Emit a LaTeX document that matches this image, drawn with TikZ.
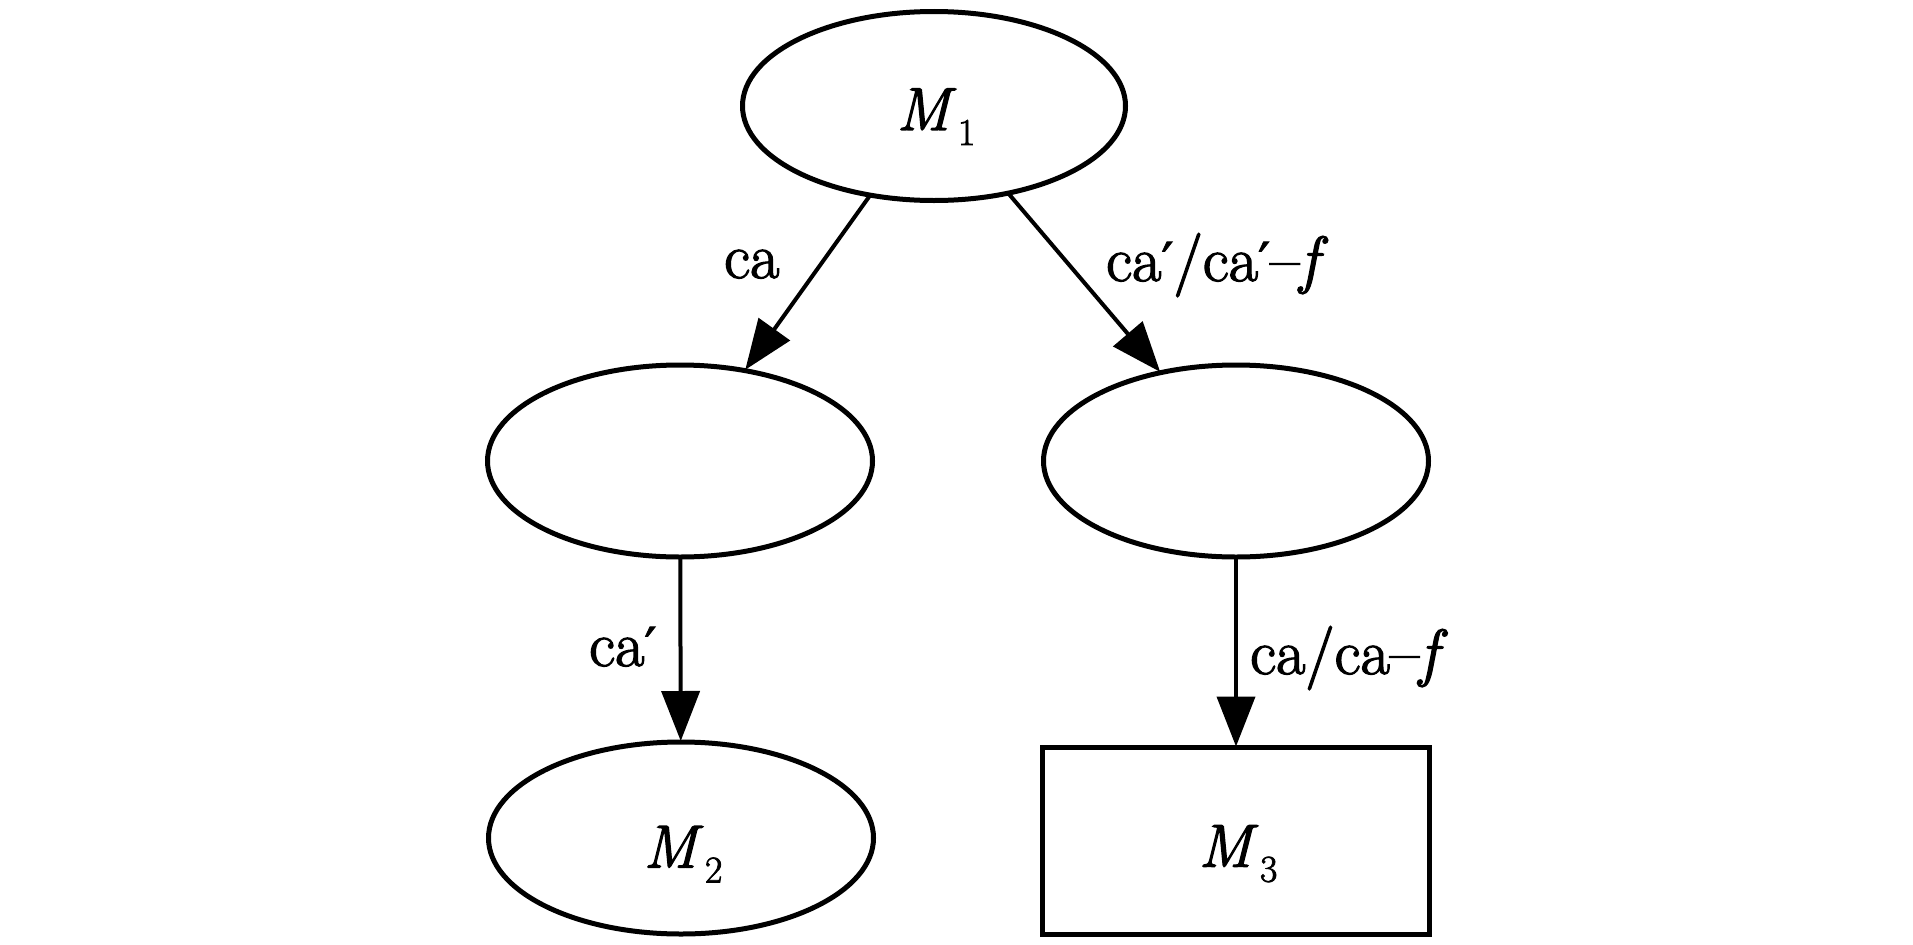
\documentclass[tikz,border=0pt]{standalone}
\usepackage{fontspec}
\setmainfont{Latin Modern Roman}[FakeBold=2]
\newfontfamily\primefont{DejaVu Serif}[FakeBold=1.5]
\usetikzlibrary{arrows.meta,shapes.geometric}
\newcommand\MSub[2]{\kern4bp\textit{M}\kern2bp\raisebox{-15bp}{\fontsize{38}{38}\selectfont #1}\rule{0pt}{#2}}
\newcommand\prm{{\primefont\fontsize{54}{54}\selectfont ′}}
\tikzset{
  state/.style={draw, line width=5bp, ellipse, inner sep=0pt, outer sep=0pt,
                minimum width=385bp, minimum height=192bp,
                font=\fontsize{61}{70}\selectfont},
  final/.style={draw, line width=5bp, rectangle, inner sep=0pt, outer sep=0pt,
                minimum width=387bp, minimum height=187bp,
                font=\fontsize{61}{70}\selectfont},
  trans/.style={line width=4bp, -{Triangle[length=50bp,width=38bp]}, shorten >=1bp},
  lab/.style={anchor=base west, inner sep=0pt, font=\fontsize{64}{72}\selectfont}
}
\begin{document}
\begin{tikzpicture}[x=1bp, y=-1bp]
\useasboundingbox[fill=white] (0,0) rectangle (1913,945);
\node[state, minimum width=383bp, minimum height=189bp] (m1) at (934,106) {\MSub{1}{63bp}};
\node[state] (l1) at (680,461) {};
\node[state] (r1) at (1236,461) {};
\node[state] (m2) at (681,838) {\MSub{2}{74bp}};
\node[final] (m3) at (1236,841) {\MSub{3}{67bp}};
\draw[trans] (m1) -- (l1);
\draw[trans] (m1) -- (r1);
\draw[trans] (l1) -- (m2);
\draw[trans] (r1) -- (m3);
\node[lab] (t1) at (724,278) {ca};
\node[lab] (t2) at (1106,281) {ca\prm/ca\prm--\textit{f}};
\node[lab] (t3) at (589,666) {ca\prm};
\node[lab] (t4) at (1250,674) {ca/ca--\textit{f}};
\end{tikzpicture}
\end{document}
